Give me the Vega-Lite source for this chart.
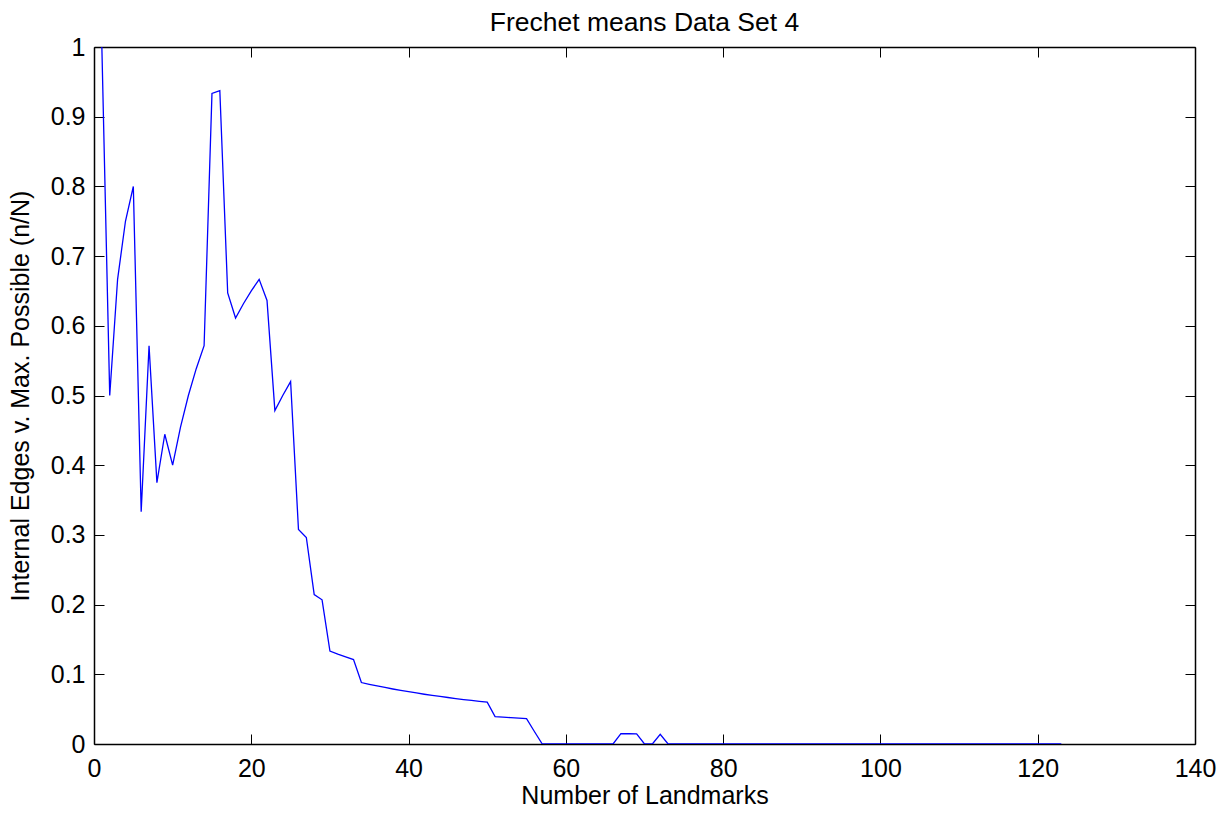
{
  "$schema": "https://vega.github.io/schema/vega-lite/v6.json",
  "autosize": "none",
  "width": 1101,
  "height": 697,
  "padding": {"left": 94, "top": 47, "right": 35, "bottom": 73},
  "background": "white",
  "title": {
    "text": "Frechet means Data Set 4",
    "font": "Liberation Sans",
    "fontSize": 26.5,
    "fontWeight": "normal",
    "color": "black",
    "anchor": "middle",
    "baseline": "alphabetic",
    "offset": 14,
    "dy": 36
  },
  "config": {
    "view": {"stroke": null},
    "axis": {
      "grid": false,
      "domainColor": "black",
      "domainWidth": 1.5,
      "tickColor": "black",
      "tickWidth": 1,
      "labelFont": "Liberation Sans",
      "labelFontSize": 25,
      "labelColor": "black",
      "titleFont": "Liberation Sans",
      "titleFontSize": 25,
      "titleFontWeight": "normal",
      "titleColor": "black"
    }
  },
  "data": {
    "values": [
      {"n": 1, "r": 1},
      {"n": 2, "r": 0.5},
      {"n": 3, "r": 0.6667},
      {"n": 4, "r": 0.75},
      {"n": 5, "r": 0.8},
      {"n": 6, "r": 0.3333},
      {"n": 7, "r": 0.5714},
      {"n": 8, "r": 0.375},
      {"n": 9, "r": 0.4444},
      {"n": 10, "r": 0.4},
      {"n": 11, "r": 0.4545},
      {"n": 12, "r": 0.5},
      {"n": 13, "r": 0.5385},
      {"n": 14, "r": 0.5714},
      {"n": 15, "r": 0.9333},
      {"n": 16, "r": 0.9375},
      {"n": 17, "r": 0.6471},
      {"n": 18, "r": 0.6111},
      {"n": 19, "r": 0.6316},
      {"n": 20, "r": 0.65},
      {"n": 21, "r": 0.6667},
      {"n": 22, "r": 0.6364},
      {"n": 23, "r": 0.4783},
      {"n": 24, "r": 0.5},
      {"n": 25, "r": 0.52},
      {"n": 26, "r": 0.3077},
      {"n": 27, "r": 0.2963},
      {"n": 28, "r": 0.2143},
      {"n": 29, "r": 0.2069},
      {"n": 30, "r": 0.1333},
      {"n": 31, "r": 0.129},
      {"n": 32, "r": 0.125},
      {"n": 33, "r": 0.1212},
      {"n": 34, "r": 0.0882},
      {"n": 35, "r": 0.0857},
      {"n": 36, "r": 0.0833},
      {"n": 37, "r": 0.0811},
      {"n": 38, "r": 0.0789},
      {"n": 39, "r": 0.0769},
      {"n": 40, "r": 0.075},
      {"n": 41, "r": 0.0732},
      {"n": 42, "r": 0.0714},
      {"n": 43, "r": 0.0698},
      {"n": 44, "r": 0.0682},
      {"n": 45, "r": 0.0667},
      {"n": 46, "r": 0.0652},
      {"n": 47, "r": 0.0638},
      {"n": 48, "r": 0.0625},
      {"n": 49, "r": 0.0612},
      {"n": 50, "r": 0.06},
      {"n": 51, "r": 0.0392},
      {"n": 52, "r": 0.0385},
      {"n": 53, "r": 0.0377},
      {"n": 54, "r": 0.037},
      {"n": 55, "r": 0.0364},
      {"n": 56, "r": 0.0179},
      {"n": 57, "r": 0},
      {"n": 58, "r": 0},
      {"n": 59, "r": 0},
      {"n": 60, "r": 0},
      {"n": 61, "r": 0},
      {"n": 62, "r": 0},
      {"n": 63, "r": 0},
      {"n": 64, "r": 0},
      {"n": 65, "r": 0},
      {"n": 66, "r": 0},
      {"n": 67, "r": 0.0149},
      {"n": 68, "r": 0.0147},
      {"n": 69, "r": 0.0145},
      {"n": 70, "r": 0},
      {"n": 71, "r": 0},
      {"n": 72, "r": 0.0139},
      {"n": 73, "r": 0},
      {"n": 74, "r": 0},
      {"n": 75, "r": 0},
      {"n": 76, "r": 0},
      {"n": 77, "r": 0},
      {"n": 78, "r": 0},
      {"n": 79, "r": 0},
      {"n": 80, "r": 0},
      {"n": 81, "r": 0},
      {"n": 82, "r": 0},
      {"n": 83, "r": 0},
      {"n": 84, "r": 0},
      {"n": 85, "r": 0},
      {"n": 86, "r": 0},
      {"n": 87, "r": 0},
      {"n": 88, "r": 0},
      {"n": 89, "r": 0},
      {"n": 90, "r": 0},
      {"n": 91, "r": 0},
      {"n": 92, "r": 0},
      {"n": 93, "r": 0},
      {"n": 94, "r": 0},
      {"n": 95, "r": 0},
      {"n": 96, "r": 0},
      {"n": 97, "r": 0},
      {"n": 98, "r": 0},
      {"n": 99, "r": 0},
      {"n": 100, "r": 0},
      {"n": 101, "r": 0},
      {"n": 102, "r": 0},
      {"n": 103, "r": 0},
      {"n": 104, "r": 0},
      {"n": 105, "r": 0},
      {"n": 106, "r": 0},
      {"n": 107, "r": 0},
      {"n": 108, "r": 0},
      {"n": 109, "r": 0},
      {"n": 110, "r": 0},
      {"n": 111, "r": 0},
      {"n": 112, "r": 0},
      {"n": 113, "r": 0},
      {"n": 114, "r": 0},
      {"n": 115, "r": 0},
      {"n": 116, "r": 0},
      {"n": 117, "r": 0},
      {"n": 118, "r": 0},
      {"n": 119, "r": 0},
      {"n": 120, "r": 0},
      {"n": 121, "r": 0},
      {"n": 122, "r": 0},
      {"n": 123, "r": 0}
    ]
  },
  "layer": [
    {
      "mark": {"type": "line", "color": "#0000ff", "strokeWidth": 1.3, "clip": true},
      "encoding": {
        "x": {
          "field": "n", "type": "quantitative",
          "scale": {"domain": [0, 140], "nice": false, "zero": false},
          "axis": {
            "orient": "bottom",
            "title": "Number of Landmarks",
            "values": [0, 20, 40, 60, 80, 100, 120, 140],
            "tickSize": -10,
            "labelPadding": 22,
            "labelFlush": false,
            "titlePadding": 2,
            "format": "d"
          }
        },
        "y": {
          "field": "r", "type": "quantitative",
          "scale": {"domain": [0, 1], "nice": false, "zero": false},
          "axis": {
            "orient": "left",
            "title": "Internal Edges v. Max. Possible (n/N)",
            "values": [0, 0.1, 0.2, 0.3, 0.4, 0.5, 0.6, 0.7, 0.8, 0.9, 1],
            "tickSize": -10,
            "labelPadding": 19,
            "labelFlush": false,
            "titlePadding": 17,
            "format": ".1~f"
          }
        }
      }
    },
    {
      "mark": {"type": "line", "opacity": 0},
      "encoding": {
        "x": {
          "field": "n", "type": "quantitative",
          "axis": {
            "orient": "top",
            "title": null,
            "labels": false,
            "values": [0, 20, 40, 60, 80, 100, 120, 140],
            "tickSize": -10
          }
        },
        "y": {
          "field": "r", "type": "quantitative",
          "axis": {
            "orient": "right",
            "title": null,
            "labels": false,
            "values": [0, 0.1, 0.2, 0.3, 0.4, 0.5, 0.6, 0.7, 0.8, 0.9, 1],
            "tickSize": -10
          }
        }
      }
    }
  ],
  "resolve": {"axis": {"x": "independent", "y": "independent"}}
}
